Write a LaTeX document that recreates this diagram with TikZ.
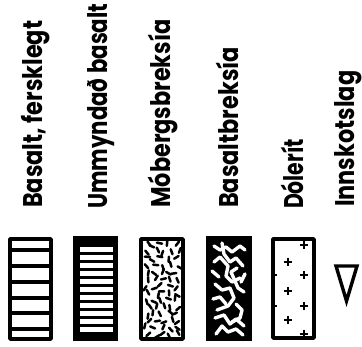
\documentclass[tikz,border=0pt]{standalone}
\usepackage{fontspec}
\setmainfont{Poppins}
\usetikzlibrary{calc}
\begin{document}
\begin{tikzpicture}[x=1pt,y=-1pt,
  lbl/.style={font=\fontsize{27}{29}\selectfont\bfseries, rotate=90, xscale=0.83, anchor=base west, inner sep=0pt},
  frame/.style={draw=black, line width=3.6pt, line join=round},
  bar/.style={black, line width=3.2pt},
  plus/.style={black, line width=2.8pt}]
\useasboundingbox (0,0) rectangle (362,346);
% labels
\node[lbl] (t1) at (42,208) {Basalt, fersklegt};
\node[lbl, xscale=0.95] (t2) at (107,209) {Ummyndað basalt};
\node[lbl] (t3) at (170,208) {Móbergsbreksía};
\node[lbl] (t4) at (238,208) {Basaltbreksía};
\node[lbl, xscale=0.91] (t5) at (303,209) {Dólerít};
\node[lbl] (t6) at (354,207) {Innskotslag};
% box 1
\draw[frame] (10,239) rectangle (51,339);
\foreach \yy in {250,266,282,298,313,329} \draw[bar] (10,\yy) -- (51,\yy);
% box 2
\fill[black] (73,236) rectangle (118,341);
\foreach \yy in {249,257.2,265.2,273.2,281.2,289.2,297.2,305.2,313.2,321.2,329.2}
  \fill[white] (79.5,\yy-2.5) rectangle (112.5,\yy+2.5);
% box 3
\draw[frame] (141,239) rectangle (183,339);
\pgfmathsetseed{17}
\foreach \row in {0,...,13}{
  \foreach \col in {0,...,4}{
    \pgfmathsetmacro{\cx}{147+7.2*\col+(\row/2-floor(\row/2))*3.6+2.4*rand}
    \pgfmathsetmacro{\cy}{245+6.9*\row+2.2*rand}
    \pgfmathsetmacro{\an}{360*rnd}
    \draw[black, line width=2.5pt, line cap=round] ($(\cx,\cy)+(\an:2.6)$) -- ($(\cx,\cy)+(\an+180:2.6)$);
  }
}
% box 4
\fill[black] (206,236) rectangle (252,341);
\begin{scope}[white, line width=3.4pt, line join=round, line cap=round]
\draw (214,246) -- (220,250) -- (226,247) -- (232,252) -- (240,246) -- (245,250);
\draw (222,243) -- (224,254) -- (230,262) -- (236,258) -- (243,266);
\draw (214,262) -- (220,257) -- (228,266) -- (226,276) -- (232,282) -- (240,278);
\draw (237,268) -- (231,272) -- (238,288) -- (244,292);
\draw (215,284) -- (222,290) -- (230,288) -- (234,298) -- (228,306) -- (217,310);
\draw (213,299) -- (220,297) -- (226,304);
\draw (236,304) -- (242,310) -- (240,318) -- (232,322);
\draw (215,318) -- (224,315) -- (230,324) -- (236,319) -- (244,326);
\draw (216,334) -- (222,326) -- (228,332) -- (236,329) -- (243,335);
\draw (212,271) -- (219,277);
\draw (241,282) -- (245,274);
\end{scope}
% box 5
\draw[frame] (273,239) rectangle (314,338);
\foreach \px/\py in {304/245, 288/262, 304/275, 288/291, 304/306, 288/320, 304/334}{
  \draw[plus] (\px-4.2,\py) -- (\px+4.2,\py);
  \draw[plus] (\px,\py-4.2) -- (\px,\py+4.2);
}
\draw[plus] (273,275) -- (277,275);
\draw[plus] (273,306) -- (277,306);
% triangle
\draw[black, line width=3.4pt, line join=miter] (336,266) -- (357,266) -- (346.5,301) -- cycle;
\end{tikzpicture}
\end{document}
